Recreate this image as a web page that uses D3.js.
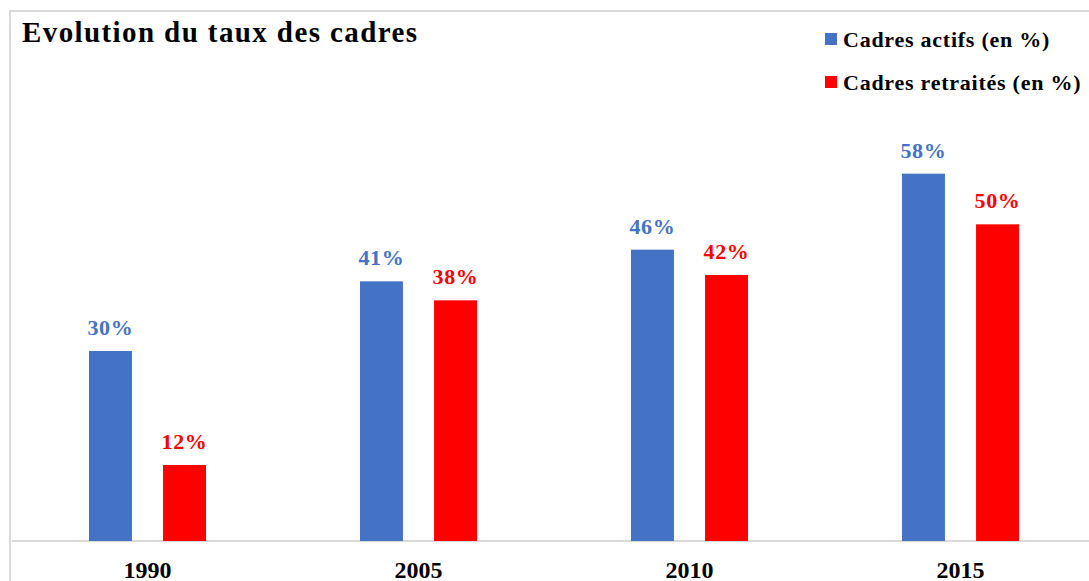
<!DOCTYPE html>
<html>
<head>
<meta charset="utf-8">
<script src="https://cdn.jsdelivr.net/npm/d3@7"></script>
<style>
  body { margin: 0; background: #fff; }
  text { font-family: "Liberation Serif", "Times New Roman", serif; font-weight: bold; }
</style>
</head>
<body>
<div id="chart"></div>
<script>
const years = ["1990", "2005", "2010", "2015"];
const actifs = [30, 41, 46, 58];
const retraites = [12, 38, 42, 50];
const seriesNames = ["Cadres actifs (en %)", "Cadres retraités (en %)"];
const colors = ["#4472c4", "#ff0000"];

const width = 1089, height = 581;

const svg = d3.select("#chart")
  .append("svg")
  .attr("width", width)
  .attr("height", height);

// frame
svg.append("path")
  .attr("d", `M10,${height} V11 H${width}`)
  .attr("fill", "none")
  .attr("stroke", "#d9d9d9")
  .attr("stroke-width", 2);

const x = d3.scaleBand()
  .domain(years)
  .range([12, 1096]);

const inner = d3.scaleBand()
  .domain([0, 1])
  .range([x.bandwidth() / 2 - 58.5, x.bandwidth() / 2 + 58.5])
  .paddingInner(0.42);

const y = d3.scaleLinear()
  .domain([0, 60])
  .range([541, 161]);

// baseline
svg.append("line")
  .attr("x1", 12).attr("x2", width)
  .attr("y1", y(0)).attr("y2", y(0))
  .attr("stroke", "#d9d9d9")
  .attr("stroke-width", 2);

const rows = years.map((yr, i) => ({ year: yr, values: [actifs[i], retraites[i]] }));

const groups = svg.selectAll("g.year")
  .data(rows)
  .join("g")
  .attr("class", "year")
  .attr("transform", d => `translate(${x(d.year)},0)`);

groups.selectAll("rect")
  .data(d => d.values.map((v, k) => ({ v, k })))
  .join("rect")
  .attr("x", d => inner(d.k))
  .attr("width", inner.bandwidth())
  .attr("y", d => y(d.v))
  .attr("height", d => y(0) - y(d.v))
  .attr("fill", d => colors[d.k]);

groups.selectAll("text.val")
  .data(d => d.values.map((v, k) => ({ v, k })))
  .join("text")
  .attr("class", "val")
  .attr("x", d => inner(d.k) + inner.bandwidth() / 2)
  .attr("y", d => y(d.v) - 16)
  .attr("text-anchor", "middle")
  .attr("font-size", 22)
  .attr("letter-spacing", 0.7)
  .attr("fill", d => colors[d.k])
  .text(d => d.v + "%");

// x axis labels
const xAxis = d3.axisBottom(x).tickSize(0).tickPadding(0);
const gx = svg.append("g")
  .attr("transform", `translate(0,${y(0)})`)
  .call(xAxis);
gx.select(".domain").remove();
gx.selectAll("text")
  .attr("dy", null)
  .attr("y", 37)
  .attr("font-size", 24)
  .attr("font-family", "Liberation Serif, serif")
  .attr("font-weight", "bold")
  .attr("fill", "#000");

// title
svg.append("text")
  .attr("x", 22)
  .attr("y", 42)
  .attr("font-size", 29)
  .attr("letter-spacing", 1.4)
  .attr("fill", "#000")
  .text("Evolution du taux des cadres");

// legend
const legend = svg.append("g")
  .selectAll("g")
  .data(seriesNames)
  .join("g")
  .attr("transform", (d, i) => `translate(825,${33 + i * 43})`);

legend.append("rect")
  .attr("width", 12)
  .attr("height", 12)
  .attr("fill", (d, i) => colors[i]);

legend.append("text")
  .attr("x", 18)
  .attr("y", 13.5)
  .attr("font-size", 22)
  .attr("letter-spacing", 0.75)
  .attr("fill", "#000")
  .text(d => d);
</script>
</body>
</html>
